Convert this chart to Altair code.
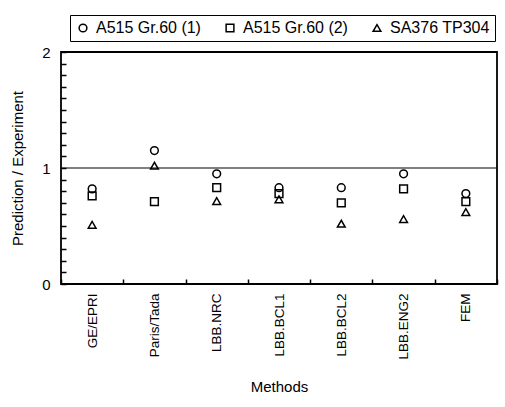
import altair as alt
import pandas as pd

methods = ["GE/EPRI", "Paris/Tada", "LBB.NRC", "LBB.BCL1", "LBB.BCL2", "LBB.ENG2", "FEM"]
series = ["A515 Gr.60 (1)", "A515 Gr.60 (2)", "SA376 TP304"]
s1 = [0.82, 1.15, 0.95, 0.83, 0.83, 0.95, 0.78]
s2 = [0.76, 0.71, 0.83, 0.78, 0.70, 0.82, 0.71]
s3 = [0.51, 1.02, 0.715, 0.73, 0.52, 0.56, 0.62]
ref_line = [1.0]
y_tick_count = 20

rows = []
for name, vals in zip(series, [s1, s2, s3]):
    for m, v in zip(methods, vals):
        rows.append({"Method": m, "Series": name, "Value": v})
df = pd.DataFrame(rows)
ref_df = pd.DataFrame({"Value": ref_line})

FONT = "Liberation Sans"
yscale = alt.Scale(domain=[0, 2], nice=False, zero=True)
yaxis = alt.Axis(title="Prediction / Experiment", tickCount=y_tick_count,
                 labelExpr="abs(datum.value - round(datum.value)) < 0.001 ? format(datum.value, 'd') : ''",
                 ticks=True, tickSize=5, tickWidth=1.5, offset=-5, domain=False, grid=False, labelPadding=11,
                 labelFontSize=15, labelColor="black", tickColor="#000000", tickOpacity=1,
                 labelOverlap=False, labelFlush=False, zindex=2,
                 titleFontSize=15, titleFontWeight="normal", titlePadding=16,
                 titleColor="black")

points = alt.Chart(df).mark_point(
    filled=False, color="black", size=60, strokeWidth=1.5, opacity=1
).encode(
    x=alt.X("Method:N", sort=methods, scale=alt.Scale(domain=methods, paddingInner=0, paddingOuter=0),
            axis=alt.Axis(title="Methods", labelAngle=270, labelAlign="right", labelBaseline="middle",
                          labelFontSize=13.5, labelPadding=9, tickBand="extent", ticks=True, tickSize=5,
                          offset=-5, tickOpacity=1, zindex=2,
                          tickWidth=1.5, domain=False, tickColor="#000000", labelColor="black",
                          titleFontSize=15, titleFontWeight="normal", titlePadding=20,
                          titleColor="black")),
    y=alt.Y("Value:Q", scale=yscale, axis=yaxis),
    shape=alt.Shape("Series:N", scale=alt.Scale(domain=series, range=["circle", "square", "triangle-up"]),
                    legend=alt.Legend(title=None, orient="none", legendX=9, legendY=-37,
                                      direction="horizontal", strokeColor="black", padding=5,
                                      labelFontSize=16, symbolSize=60, symbolStrokeColor="black",
                                      symbolFillColor="transparent", symbolStrokeWidth=1.5,
                                      columnPadding=21, labelColor="black", labelOffset=5)),
)

rule = alt.Chart(ref_df).mark_rule(color="black", strokeWidth=1.2).encode(
    y=alt.Y("Value:Q", scale=yscale, axis=yaxis)
)

chart = alt.layer(points, rule).properties(
    width=436, height=232,
    autosize=alt.AutoSizeParams(type="none"),
    padding={"left": 61, "top": 52, "right": 8, "bottom": 123},
    background="white",
).configure(font=FONT).configure_view(stroke="black", strokeWidth=1.8)

chart.save("out.html", embed_options={"renderer": "svg", "actions": False})
